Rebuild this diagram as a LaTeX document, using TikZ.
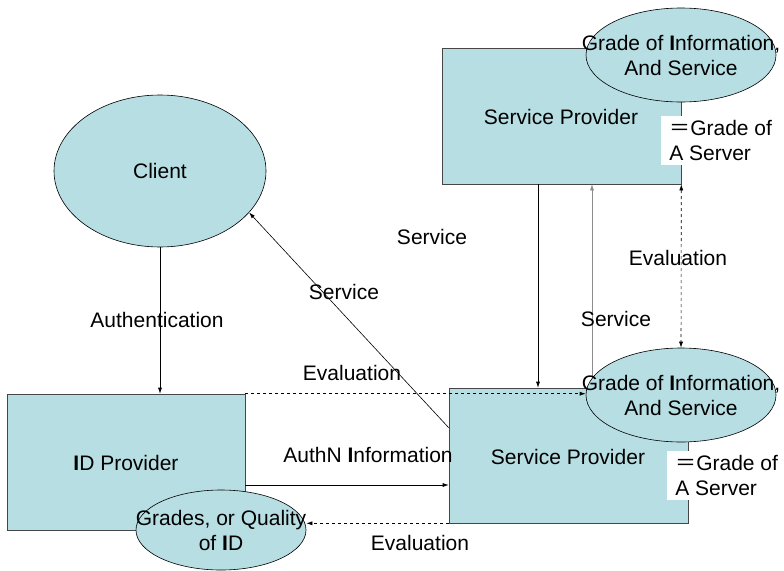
\documentclass[tikz,border=0pt]{standalone}
\usepackage{fontspec}
\setmainfont{Liberation Sans}
\newfontfamily\cjk{Noto Sans CJK JP}
\usepackage{tikz}
\usetikzlibrary{arrows.meta,shapes.geometric}
\definecolor{pale}{RGB}{183,222,227}
\definecolor{rim}{RGB}{70,70,70}
\newcommand{\bI}{\textbf{I}}
\tikzset{
 every node/.style={font=\fontsize{21}{25}\selectfont},
 party/.style={draw=rim,fill=pale,inner sep=0pt},
 grade/.style={ellipse,draw=black,fill=pale,inner sep=0pt,minimum width=190pt,minimum height=94pt},
 note/.style={fill=white,align=left,inner xsep=8pt,inner ysep=4pt,anchor=north west},
 tip/.style={-{Latex[length=6pt,width=4pt]}},
}
\begin{document}
\begin{tikzpicture}[x=1pt,y=-1pt,line width=0.6pt]
\useasboundingbox(0,0)rectangle(784,570);
% the three parties
\node[party,minimum width=239pt,minimum height=136pt](sptop)at(561.5,116){};
\node[party,minimum width=239pt,minimum height=135pt](spbot)at(568.5,455.5){};
\node[party,minimum width=238pt,minimum height=136pt](idp)at(126,462){};
\node[ellipse,draw=black,fill=pale,minimum width=212pt,minimum height=152pt](client)at(160,171){Client};
% service going up, under the ellipse
\draw[tip,draw=black!45]([xshift=30.5]sptop.south |- spbot.north)--([xshift=30.5]sptop.south);
\node[grade](gtop)at(681,55){};
\node[grade](gbot)at(681,395){};
\node[grade,minimum width=170pt,minimum height=80pt](gid)at(221,530){};
\node[align=center]at(gtop){Grade of \bI nformation,\\And Service};
\node[align=center]at(gbot){Grade of \bI nformation,\\And Service};
\node[align=center]at(gid){Grades, or Quality\\of \bI D};
\node at(561,117){Service Provider};
\node at(568,457){Service Provider};
\node at(126,463){\bI D Provider};
\node[note](ntop)at(661,116){{\cjk ＝}Grade of\\A Server};
\node[note](nbot)at(667,451){{\cjk ＝}Grade of\\A Server};
% connectors
\draw[tip](client.south)--(client.south |- idp.north);
\draw[tip]([yshift=-23]idp.east)--([yshift=-23]idp.east -| spbot.west);
\draw[tip]([yshift=-40]spbot.north west)--(client.-25);
\draw[tip]([xshift=-23.5]sptop.south)--([xshift=-23.5]sptop.south |- spbot.north);
\draw[tip,dashed](idp.north east)--(idp.north east -| gbot.west);
\draw[tip,dashed](spbot.south west)--(spbot.south west -| gid.east);
\draw[{Latex[length=6pt,width=4pt]}-{Latex[length=6pt,width=4pt]},dashed](sptop.south east)--(gbot.north);
% labels
\node at(157,320){Authentication};
\node at(368,455){AuthN \bI nformation};
\node at(352,373){Evaluation};
\node at(420,543){Evaluation};
\node at(344,292){Service};
\node at(432,237){Service};
\node at(616,319){Service};
\node at(678,258){Evaluation};
\end{tikzpicture}
\end{document}
